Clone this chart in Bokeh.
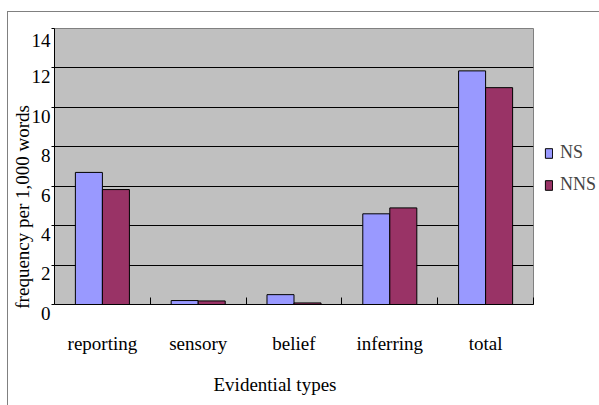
from bokeh.plotting import figure
from bokeh.models import (Range1d, FixedTicker, Legend, LegendItem,
                          ColumnDataSource)
from bokeh.layouts import row
from bokeh.embed import file_html
from bokeh.resources import INLINE

categories = ["reporting", "sensory", "belief", "inferring", "total"]
ns_values = [6.7, 0.2, 0.5, 4.6, 11.85]
nns_values = [5.83, 0.18, 0.08, 4.9, 11.0]
y_ticks = [0, 2, 4, 6, 8, 10, 12, 14]
series_names = ["NS", "NNS"]
series_colors = ["#9999FF", "#993366"]

FONT = "Liberation Serif"
NB = "\u00a0"
bar_w = 0.282
n = len(categories)
centers = [i + 0.5 for i in range(n)]

p = figure(width=532, height=393, output_backend="svg", toolbar_location=None,
           x_range=Range1d(0, n), y_range=Range1d(0, 14),
           min_border_left=46, min_border_right=7, min_border_top=16,
           min_border_bottom=101)

p.background_fill_color = "#C0C0C0"
p.border_fill_color = "white"
p.outline_line_color = "#808080"

src_ns = ColumnDataSource(dict(x=[c - bar_w / 2 for c in centers], top=ns_values))
src_nns = ColumnDataSource(dict(x=[c + bar_w / 2 for c in centers], top=nns_values))
sources = [src_ns, src_nns]

for src, col in zip(sources, series_colors):
    p.vbar(x="x", top="top", bottom=0, width=bar_w, source=src,
           fill_color=col, line_color="black", line_width=1)

# x axis
p.xaxis.ticker = FixedTicker(ticks=centers, minor_ticks=list(range(1, n + 1)))
p.xaxis.major_label_overrides = {c: lab for c, lab in zip(centers, categories)}
p.xaxis.major_tick_line_color = None
p.xaxis.minor_tick_in = 7
p.xaxis.minor_tick_out = 0
p.xaxis.minor_tick_line_color = "black"
p.xaxis.axis_line_color = "black"
p.xaxis.major_label_text_font = FONT
p.xaxis.major_label_text_font_size = "19px"
p.xaxis.major_label_text_color = "black"
p.xaxis.major_label_standoff = 22
p.xaxis.axis_label = "Evidential types" + NB * 8
p.xaxis.axis_label_text_font = FONT
p.xaxis.axis_label_text_font_size = "19px"
p.xaxis.axis_label_text_font_style = "normal"
p.xaxis.axis_label_text_color = "black"
p.xaxis.axis_label_standoff = 17

# y axis
p.yaxis.ticker = FixedTicker(ticks=y_ticks, minor_ticks=[])
p.yaxis.major_label_overrides = {v: " \n" + str(v) for v in y_ticks}
p.yaxis.major_tick_in = 0
p.yaxis.major_tick_out = 3
p.yaxis.major_tick_line_color = "black"
p.yaxis.axis_line_color = "black"
p.yaxis.major_label_text_font = FONT
p.yaxis.major_label_text_font_size = "19px"
p.yaxis.major_label_text_line_height = 0.85
p.yaxis.major_label_text_color = "black"
p.yaxis.major_label_standoff = 1
p.yaxis.axis_label = "frequency per 1,000 words" + NB * 17
p.yaxis.axis_label_text_font = FONT
p.yaxis.axis_label_text_font_size = "19px"
p.yaxis.axis_label_text_font_style = "normal"
p.yaxis.axis_label_text_color = "black"
p.yaxis.axis_label_standoff = -4

p.xgrid.grid_line_color = None
p.ygrid.grid_line_color = "black"
p.ygrid.grid_line_width = 1

# legend panel (separate narrow figure, its frame aligned with the chart's)
lg = figure(width=59, height=393, output_backend="svg", toolbar_location=None,
            x_range=Range1d(0, 1), y_range=Range1d(0, 1),
            x_axis_type=None, y_axis_type=None,
            min_border_left=0, min_border_right=0, min_border_top=0,
            min_border_bottom=0)
lg.outline_line_color = None
lg.xgrid.grid_line_color = None
lg.ygrid.grid_line_color = None
items = []
for name, col in zip(series_names, series_colors):
    # legend-only renderer: one non-finite datum, so nothing is drawn
    key_src = ColumnDataSource(dict(x=[float("nan")], top=[float("nan")]))
    r = lg.vbar(x="x", top="top", bottom=0, width=bar_w, source=key_src,
                fill_color=col, line_color="black", line_width=1)
    items.append(LegendItem(label=name, renderers=[r]))
legend = Legend(items=items, location=(4, 109), padding=0, margin=0,
                border_line_color=None, background_fill_alpha=0,
                glyph_width=9, glyph_height=12, label_height=20,
                spacing=11, label_standoff=7,
                label_text_font=FONT, label_text_font_size="18px")
lg.add_layout(legend, "center")

layout = row(p, lg)
layout.styles = {"margin-left": "7px", "margin-top": "11px",
                 "border-left": "1px solid #808080",
                 "border-top": "1px solid #808080"}
open("out.html", "w").write(file_html(layout, INLINE))
